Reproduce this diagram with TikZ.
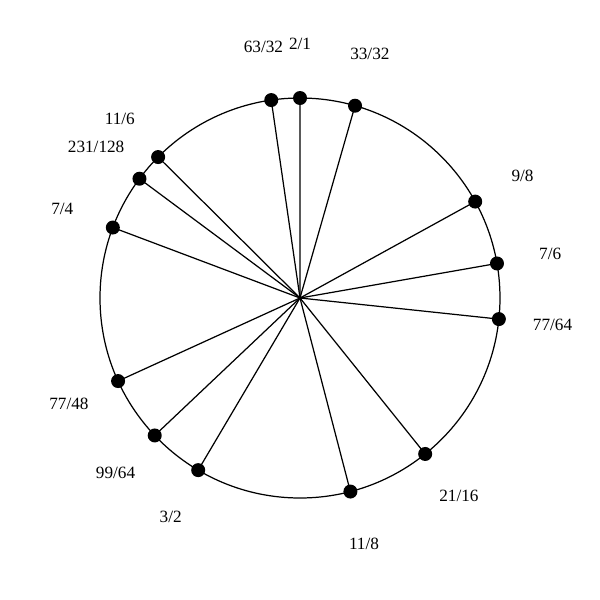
\documentclass[tikz,border=0pt]{standalone}
\usepackage{fontspec}
\setmainfont{Liberation Serif}
\tikzset{
  dot/.style={circle, fill=black, inner sep=0pt, minimum size=0.28cm},
  ratio/.style={font=\fontsize{9.8}{11}\selectfont, inner sep=0pt},
  spoke/.style={line width=0.7pt}
}
\begin{document}
\begin{tikzpicture}
\useasboundingbox (-6,-6.04) rectangle (6,5.96);
\coordinate (c) at (0,0);
\draw [line width=0.7pt] (c) circle (4);
\foreach \num/\den [count=\i] in {2/1, 33/32, 9/8, 7/6, 77/64, 21/16, 11/8, 3/2, 99/64, 77/48, 7/4, 231/128, 11/6, 63/32} {
  \pgfmathsetmacro{\ang}{90 - 360*ln(\num/\den)/ln(2)}
  \node [dot] (p\i) at (\ang:4) {};
  \node [ratio] (l\i) at (\ang:5.08) {\num/\den};
  \draw [spoke] (c) -- (p\i.center);
}
\end{tikzpicture}
\end{document}
